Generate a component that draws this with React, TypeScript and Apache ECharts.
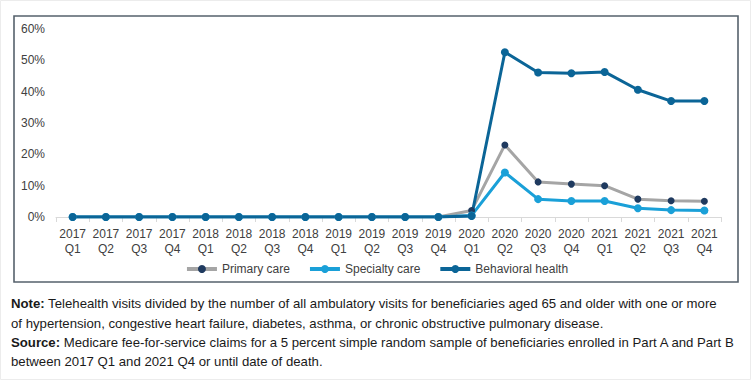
import React, { useEffect, useRef } from "react";
import * as echarts from "echarts";

const years = ["2017", "2017", "2017", "2017", "2018", "2018", "2018", "2018", "2019", "2019", "2019", "2019", "2020", "2020", "2020", "2020", "2021", "2021", "2021", "2021"];
const quarters = ["Q1", "Q2", "Q3", "Q4", "Q1", "Q2", "Q3", "Q4", "Q1", "Q2", "Q3", "Q4", "Q1", "Q2", "Q3", "Q4", "Q1", "Q2", "Q3", "Q4"];
const categories = years.map((y, i) => `${y}\n${quarters[i]}`);

const primaryCare = [0, 0, 0, 0, 0, 0, 0, 0, 0, 0, 0, 0, 2.1, 23.0, 11.2, 10.5, 10.0, 5.7, 5.2, 5.0];
const specialtyCare = [0, 0, 0, 0, 0, 0, 0, 0, 0, 0, 0, 0, 0.5, 14.2, 5.7, 5.1, 5.1, 2.8, 2.2, 2.1];
const behavioralHealth = [0, 0, 0, 0, 0, 0, 0, 0, 0, 0, 0, 0, 0.3, 52.6, 46.1, 45.9, 46.3, 40.6, 37.0, 37.0];

const yTicks = [0, 10, 20, 30, 40, 50, 60];

const noteLines = [
  { bold: "Note:", text: " Telehealth visits divided by the number of all ambulatory visits for beneficiaries aged 65 and older with one or more" },
  { bold: "", text: "of hypertension, congestive heart failure, diabetes, asthma, or chronic obstructive pulmonary disease." },
  { bold: "Source:", text: " Medicare fee-for-service claims for a 5 percent simple random sample of beneficiaries enrolled in Part A and Part B" },
  { bold: "", text: "between 2017 Q1 and 2021 Q4 or until date of death." },
];

const FONT = "'Liberation Sans', Arial, sans-serif";

export default function App() {
  const ref = useRef<HTMLDivElement>(null);
  useEffect(() => {
    if (!ref.current) return;
    const chart = echarts.init(ref.current, undefined, { renderer: "svg" });
    const noteY = [305, 325, 344, 363];
    const graphics: any[] = [
      { type: "rect", shape: { x: 0.5, y: 0.5, width: 750, height: 379 }, style: { fill: "none", stroke: "#ececec", lineWidth: 1 }, silent: true },
      { type: "rect", shape: { x: 14, y: 16, width: 724, height: 266 }, style: { fill: "none", stroke: "#56616c", lineWidth: 1.6 }, silent: true },
    ];
    noteLines.forEach((l, i) => {
      graphics.push({
        type: "text",
        left: 11,
        top: noteY[i] - 8,
        style: {
          rich: {
            b: { fontWeight: "bold", fontSize: 13.2, fontFamily: FONT, fill: "#1a1a1a" },
            n: { fontSize: 13.2, fontFamily: FONT, fill: "#1a1a1a" },
          },
          text: (l.bold ? `{b|${l.bold}}` : "") + `{n|${l.text}}`,
        },
      });
    });
    chart.setOption({
      animation: false,
      backgroundColor: "#ffffff",
      textStyle: { fontFamily: FONT },
      grid: { left: 56, right: 32, top: 29, bottom: 164 },
      legend: {
        top: 258,
        left: "center",
        itemWidth: 30,
        itemHeight: 10,
        itemGap: 18,
        lineStyle: { width: 4 },
        textStyle: { fontSize: 12, color: "#404040", fontFamily: FONT },
        data: ["Primary care", "Specialty care", "Behavioral health"],
      },
      xAxis: {
        type: "category",
        data: categories,
        boundaryGap: true,
        axisLine: { lineStyle: { color: "#d9d9d9", width: 1 } },
        axisTick: { show: true, length: 5, lineStyle: { color: "#d9d9d9" } },
        axisLabel: { color: "#404040", fontSize: 12, lineHeight: 15, margin: 9, interval: 0 },
      },
      yAxis: {
        type: "value",
        min: yTicks[0],
        max: yTicks[yTicks.length - 1],
        interval: 10,
        axisLine: { show: false },
        axisTick: { show: false },
        splitLine: { show: false },
        axisLabel: { color: "#404040", fontSize: 12, margin: 11, formatter: (v: number) => `${v}%` },
      },
      series: [
        {
          name: "Primary care",
          type: "line",
          data: primaryCare,
          symbol: "circle",
          symbolSize: 7,
          lineStyle: { color: "#a5a5a5", width: 3 },
          itemStyle: { color: "#1f3a5f" },
        },
        {
          name: "Specialty care",
          type: "line",
          data: specialtyCare,
          symbol: "circle",
          symbolSize: 8,
          lineStyle: { color: "#1aa0d8", width: 3 },
          itemStyle: { color: "#1aa0d8" },
        },
        {
          name: "Behavioral health",
          type: "line",
          data: behavioralHealth,
          symbol: "circle",
          symbolSize: 8,
          lineStyle: { color: "#0b6597", width: 3 },
          itemStyle: { color: "#0b6597" },
        },
      ],
      graphic: graphics,
    });
    return () => chart.dispose();
  }, []);
  return <div ref={ref} style={{ position: "fixed", left: 0, top: 0, width: 753, height: 381 }} />;
}
